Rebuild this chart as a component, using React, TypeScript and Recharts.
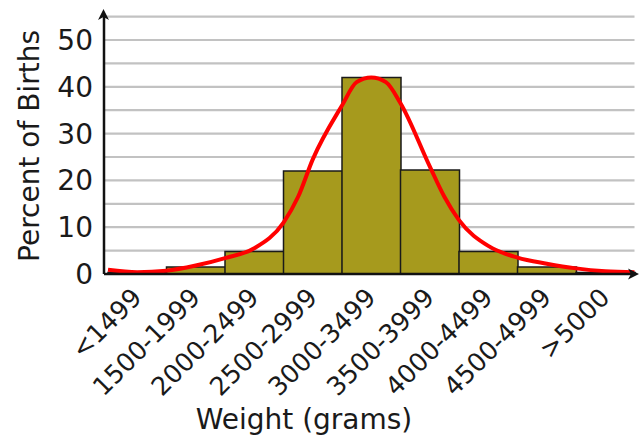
import React from 'react'
import {
  ComposedChart,
  Bar,
  Line,
  XAxis,
  YAxis,
  CartesianGrid,
} from 'recharts'

const FONT = '"DejaVu Sans", Verdana, sans-serif'

const categories = [
  '<1499',
  '1500-1999',
  '2000-2499',
  '2500-2999',
  '3000-3499',
  '3500-3999',
  '4000-4499',
  '4500-4999',
  '>5000',
]
const percents = [0.3, 1.5, 4.8, 22, 42, 22.2, 4.8, 1.5, 0.3]

// fitted curve, x in bin units (0 = left edge of first bin)
const curveX = [0, 0.5, 1, 1.5, 2, 2.5, 3, 3.25, 3.5, 4, 4.25, 4.5, 4.75, 5, 5.5, 5.75, 6, 6.5, 7, 7.5, 8, 8.5, 9]
const curveY = [0.9, 0.4, 0.7, 1.8, 3.4, 5.5, 11, 16.5, 24.5, 36, 41, 42, 41, 36.5, 23, 16.5, 11.5, 6, 3.5, 2.2, 1.2, 0.6, 0.4]

const yTicks = [0, 5, 10, 15, 20, 25, 30, 35, 40, 45, 50]

const barData = categories.map((name, i) => ({ name, pct: percents[i] }))
const curveData = curveX.map((x, i) => ({ x, y: curveY[i] }))

const XTick = (props: any) => {
  const { x, y, payload } = props
  const tx = x + 6
  const ty = y + 25
  return (
    <text
      x={tx}
      y={ty}
      transform={`rotate(-45 ${tx} ${ty})`}
      textAnchor="end"
      fontSize={25.5}
      fontFamily={FONT}
      fill="#1a1a1a"
    >
      {payload.value}
    </text>
  )
}

export default function App() {
  return (
    <div style={{ position: 'absolute', left: 0, top: 0, width: 640, height: 437, background: '#fff' }}>
      <ComposedChart
        width={640}
        height={437}
        data={barData}
        margin={{ top: 16.6, right: 5.5, bottom: 0, left: 0 }}
        barCategoryGap={0}
        barGap={0}
      >
        <CartesianGrid xAxisId="cat" vertical={false} stroke="#c2c2c2" strokeWidth={2.2} />
        <XAxis
          xAxisId="cat"
          dataKey="name"
          interval={0}
          height={163}
          padding={{ left: 4, right: 0 }}
          tickLine={false}
          tickSize={0}
          tickMargin={0}
          tick={<XTick />}
          axisLine={{ stroke: '#111', strokeWidth: 2.5 }}
        />
        <XAxis
          xAxisId="curve"
          type="number"
          dataKey="x"
          domain={[0, 9]}
          padding={{ left: 4, right: 0 }}
          hide
        />
        <YAxis
          width={104}
          domain={[0, 55]}
          ticks={yTicks}
          interval={0}
          tickFormatter={(v: number) => (v % 10 === 0 ? String(v) : '')}
          tick={{ fontSize: 28, fill: '#1a1a1a', fontFamily: FONT }}
          tickLine={false}
          tickSize={0}
          tickMargin={11}
          axisLine={{ stroke: '#111', strokeWidth: 2.5 }}
        />
        <Bar
          xAxisId="cat"
          dataKey="pct"
          fill="#a69a1d"
          stroke="#1a1a1a"
          strokeWidth={1.5}
          isAnimationActive={false}
        />
        <Line
          xAxisId="curve"
          data={curveData}
          dataKey="y"
          type="monotone"
          stroke="#ff0000"
          strokeWidth={4}
          dot={false}
          activeDot={false}
          isAnimationActive={false}
        />
      </ComposedChart>
      <svg
        width={640}
        height={437}
        style={{ position: 'absolute', left: 0, top: 0, pointerEvents: 'none' }}
      >
        <polygon points="103.5,9 98,20 103.5,17 109,20" fill="#111" />
        <line x1={632} y1={274} x2={634} y2={274} stroke="#111" strokeWidth={2.5} />
        <polygon points="639,274 628,268.5 631,274 628,279.5" fill="#111" />
        <text
          x={39}
          y={146}
          transform="rotate(-90 39 146)"
          textAnchor="middle"
          fontSize={28}
          fontFamily={FONT}
          fill="#1a1a1a"
        >
          Percent of Births
        </text>
        <text x={304} y={429} textAnchor="middle" fontSize={28} fontFamily={FONT} fill="#1a1a1a">
          Weight (grams)
        </text>
      </svg>
    </div>
  )
}
